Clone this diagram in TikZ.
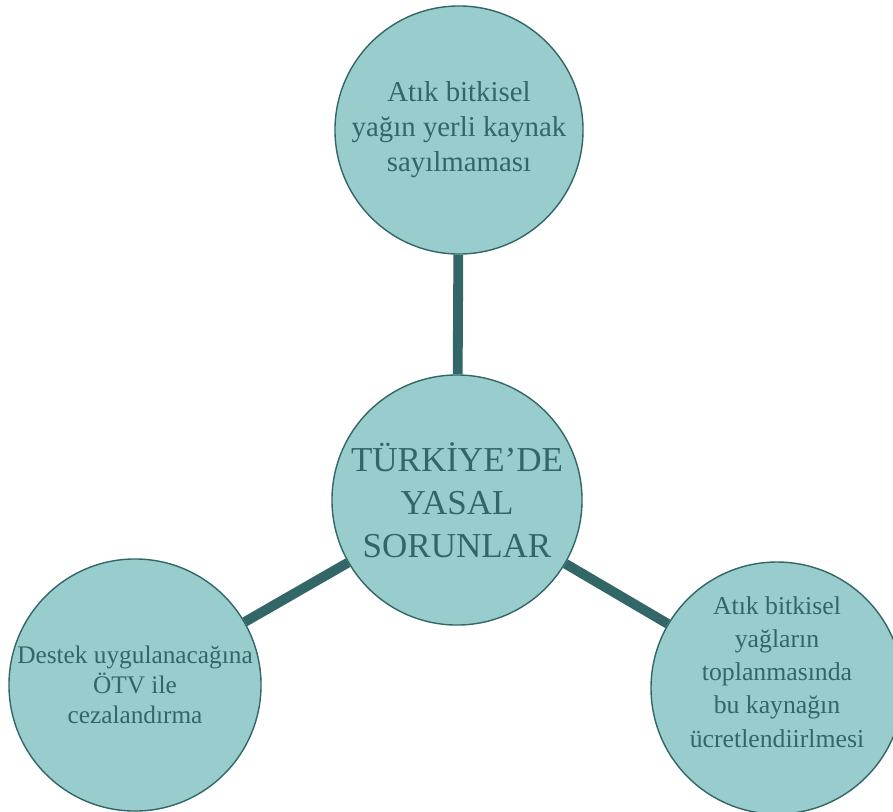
\documentclass[tikz,border=0pt]{standalone}
\usepackage{fontspec}
\setmainfont{Liberation Serif}
\usepackage{tikz}
\usepackage{xcolor}
\usetikzlibrary{positioning}
\definecolor{circfill}{RGB}{153, 204, 204}
\definecolor{tealdark}{RGB}{51, 102, 102}

\begin{document}
\begin{tikzpicture}[x=0.025cm, y=-0.025cm,
    bubble/.style={circle, draw=tealdark, line width=1pt, fill=circfill, minimum size=6.2cm, inner sep=0pt, align=center, text=tealdark},
    spoke/.style={line width=7pt, tealdark}
]
\useasboundingbox (0,0) rectangle (893,811);

% center
\node[bubble, minimum size=6.25cm, font=\fontsize{24.9pt}{30.6pt}\selectfont] (core) at (457,500) {TÜRKİYE’DE\\YASAL\\SORUNLAR};

% outer circles
\node[bubble, font=\fontsize{20.5pt}{24.9pt}\selectfont] (top) at (459,130) {Atık bitkisel\\yağın yerli kaynak\\sayılmaması};
\node[bubble, minimum size=6.3cm, font=\fontsize{18pt}{21.3pt}\selectfont] (left) at (135,685) {Destek uygulanacağına\\ÖTV ile\\cezalandırma};
\node[bubble, font=\fontsize{18.3pt}{23.5pt}\selectfont, text depth=22.8pt] (right) at (777,688) {Atık bitkisel\\yağların\\toplanmasında\\bu kaynağın\\ücretlendiirlmesi};

% connectors
\draw[spoke] (top) -- (core);
\draw[spoke] (core) -- (left);
\draw[spoke] (core) -- (right);

\end{tikzpicture}
\end{document}
